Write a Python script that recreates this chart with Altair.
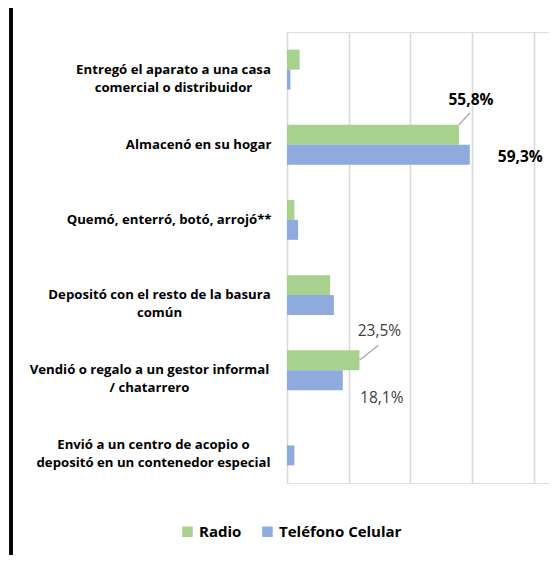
import altair as alt
import pandas as pd

categories = [
    "Entregó el aparato a una casa\ncomercial o distribuidor",
    "Almacenó en su hogar",
    "Quemó, enterró, botó, arrojó**",
    "Depositó con el resto de la basura\ncomún",
    "Vendió o regalo a un gestor informal\n/ chatarrero",
    "Envió a un centro de acopio o\ndepositó en un contenedor especial",
]
series = ["Radio", "Teléfono Celular"]
radio = [4.1, 55.8, 2.4, 14.0, 23.5, 0.0]
celular = [1.1, 59.3, 3.6, 15.2, 18.1, 2.4]
x_ticks = [0, 20, 40, 60, 80]

rows = []
for c, r, t in zip(categories, radio, celular):
    rows.append({"cat": c, "series": series[0], "value": r})
    rows.append({"cat": c, "series": series[1], "value": t})
df = pd.DataFrame(rows)

FONT = "Open Sans"
colors = ["#a9d18e", "#8faadc"]

# label centering for multi-line labels (half width of widest line + pad)
centers = {"Entregó": 114, "Depositó": 128, "Vendió": 138, "Envió": 134}
pad_expr = "16"
align_expr = "'right'"
for k, v in centers.items():
    pad_expr = f"indexof(datum.value, '{k}') == 0 ? {v} : ({pad_expr})"
    align_expr = f"indexof(datum.value, '{k}') == 0 ? 'center' : ({align_expr})"

yscale = alt.Scale(domain=categories, paddingInner=0.47, paddingOuter=0.235)
xscale = alt.Scale(domain=[0, 85], nice=False, zero=True)

base = alt.Chart(df).transform_calculate(
    label="replace(format(datum.value, '.1f'), '.', ',') + '%'"
)

bars = base.mark_bar().encode(
    x=alt.X("value:Q", scale=xscale,
            axis=alt.Axis(values=x_ticks, grid=True, gridColor="#d9d9d9", gridWidth=1.6,
                          labels=False, ticks=False, domain=False, title=None)),
    y=alt.Y("cat:N", scale=yscale,
            axis=alt.Axis(title=None, domain=False, ticks=False,
                          labelExpr="split(datum.label, '\\n')",
                          labelFont=FONT, labelFontSize=13.2, labelFontWeight="bold",
                          labelColor="#000000", labelLimit=400, labelLineHeight=18,
                          labelAlign={"expr": align_expr},
                          labelPadding={"expr": pad_expr})),
    yOffset=alt.YOffset("series:N", sort=series, scale=alt.Scale(paddingInner=0)),
    color=alt.Color("series:N", sort=series,
                    scale=alt.Scale(domain=series, range=colors),
                    legend=alt.Legend(orient="none", legendX=-107, legendY=492,
                                      direction="horizontal", title=None,
                                      symbolType="square", symbolSize=110,
                                      symbolStrokeWidth=0, labelFont=FONT,
                                      labelFontSize=15, labelFontWeight="bold",
                                      labelColor="#000000", columnPadding=18,
                                      labelOffset=4)),
)

def flt(cat_i, s):
    return (alt.datum.cat == categories[cat_i]) & (alt.datum.series == s)

lab_558 = base.transform_filter(flt(1, series[0])).mark_text(
    font=FONT, fontSize=15.5, fontWeight="bold", color="#000000",
    align="center", baseline="middle", dx=12, dy=-45
).encode(x=alt.X("value:Q", scale=xscale), y=alt.Y("cat:N", scale=yscale), text="label:N")

lead_558 = base.transform_filter(flt(1, series[0])).mark_rule(
    color="#a6a6a6", strokeWidth=1.2, yOffset=-20, y2Offset=-32, x2Offset=11
).encode(x=alt.X("value:Q", scale=xscale), x2="value:Q",
         y=alt.Y("cat:N", scale=yscale), y2="cat:N")

lab_593 = base.transform_filter(flt(1, series[1])).mark_text(
    font=FONT, fontSize=15.5, fontWeight="bold", color="#000000",
    align="left", baseline="middle", dx=28, dy=12
).encode(x=alt.X("value:Q", scale=xscale), y=alt.Y("cat:N", scale=yscale), text="label:N")

lab_235 = base.transform_filter(flt(4, series[0])).mark_text(
    font=FONT, fontSize=15.5, color="#404040",
    align="center", baseline="middle", dx=20, dy=-39
).encode(x=alt.X("value:Q", scale=xscale), y=alt.Y("cat:N", scale=yscale), text="label:N")

lead_235 = base.transform_filter(flt(4, series[0])).mark_rule(
    color="#a6a6a6", strokeWidth=1.2, yOffset=-10, y2Offset=-25, x2Offset=19
).encode(x=alt.X("value:Q", scale=xscale), x2="value:Q",
         y=alt.Y("cat:N", scale=yscale), y2="cat:N")

lab_181 = base.transform_filter(flt(4, series[1])).mark_text(
    font=FONT, fontSize=15.5, color="#404040",
    align="center", baseline="middle", dx=39, dy=28
).encode(x=alt.X("value:Q", scale=xscale), y=alt.Y("cat:N", scale=yscale), text="label:N")

frame = alt.Chart(df).mark_rule(color="#000000", strokeWidth=2.5).encode(
    x=alt.value(-276), y=alt.value(-24), y2=alt.value(523)
)

chart = alt.layer(bars, lead_558, lab_558, lab_593, lead_235, lab_235, lab_181, frame).properties(
    width=262, height=451,
    padding={"left": 279, "top": 24, "right": 0, "bottom": 72},
    autosize=alt.AutoSizeParams(type="none"),
).configure_view(stroke=None).configure(background="#ffffff")

chart.save("out.html", embed_options={"renderer": "svg", "actions": False})
